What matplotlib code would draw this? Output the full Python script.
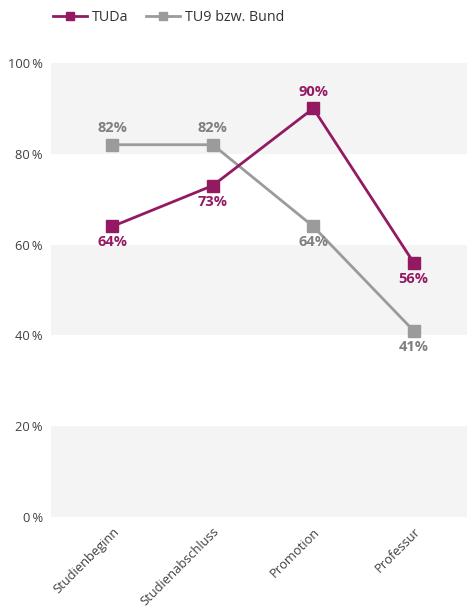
import matplotlib
matplotlib.use("Agg")
import matplotlib.pyplot as plt
from matplotlib.ticker import FuncFormatter

plt.rcParams['font.family'] = ['Open Sans', 'DejaVu Sans']

categories = ["Studienbeginn", "Studienabschluss", "Promotion", "Professur"]
tuda = [64, 73, 90, 56]
tu9 = [82, 82, 64, 41]
tuda_pos = ["below", "below", "above", "below"]
tu9_pos = ["above", "above", "below", "below"]
yticks = [0, 20, 40, 60, 80, 100]

purple = "#931A62"
gray = "#9B9B9B"
gray_lbl = "#7F7F7F"

fig = plt.figure(figsize=(4.67, 6.12), dpi=100)
ax = fig.add_axes([51/467, 1-517/612, 1-51/467, (517-63)/612])

x = list(range(len(categories)))
ax.set_xlim(-0.61, 3.53)
ax.set_ylim(0, 100)

for lo in (0, 40, 80):
    ax.axhspan(lo, lo + 20, color="#F4F4F4", lw=0, zorder=0)

ax.plot(x, tu9, color=gray, lw=2.0, marker="s", ms=8.5, label="TU9 bzw. Bund", zorder=3)
ax.plot(x, tuda, color=purple, lw=2.0, marker="s", ms=8.5, label="TUDa", zorder=4)

def annotate(vals, pos, color):
    for xi, v, p in zip(x, vals, pos):
        off = 12 if p == "above" else -11.5
        ax.annotate(f"{v}%", (xi, v), xytext=(0, off), textcoords="offset points",
                    ha="center", va="center", fontsize=10.5, fontweight="bold", color=color)

annotate(tuda, tuda_pos, purple)
annotate(tu9, tu9_pos, gray_lbl)

ax.set_yticks(yticks)
ax.yaxis.set_major_formatter(FuncFormatter(lambda v, p: f"{int(v)}\u2009%"))
ax.set_xticks(x)
ax.set_xticklabels(categories, rotation=45, ha="right", rotation_mode="anchor")
ax.tick_params(axis="both", length=0, labelsize=9.3, colors="#404040")
ax.tick_params(axis="x", pad=6)
ax.tick_params(axis="y", pad=6)
for s in ax.spines.values():
    s.set_visible(False)

h, l = ax.get_legend_handles_labels()
fig.legend(h[::-1], l[::-1], loc="upper left", bbox_to_anchor=(0.085, 1.004), ncol=2,
           frameon=False, fontsize=10.3, handlelength=2.4, columnspacing=1.2,
           handletextpad=0.35, markerscale=0.6, labelcolor="#333333")

fig.savefig("out.png", dpi=100)
